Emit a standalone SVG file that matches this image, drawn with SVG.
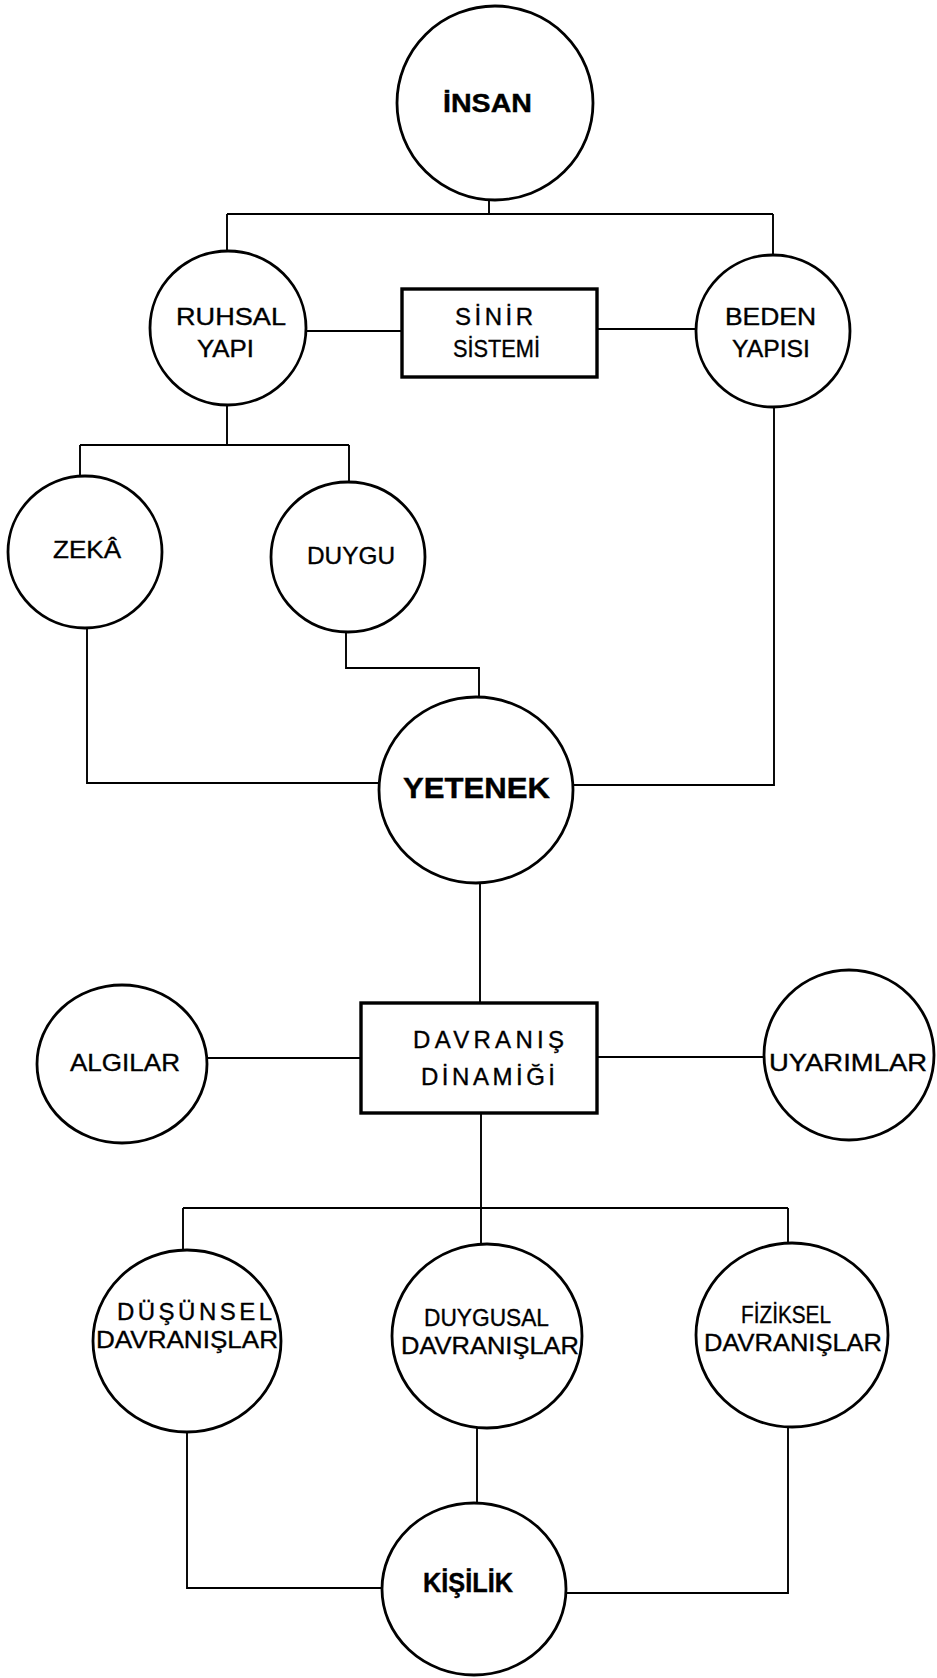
<svg xmlns="http://www.w3.org/2000/svg" width="937" height="1678" viewBox="0 0 937 1678">
<style>
.c{fill:#fff;stroke:#000;stroke-width:2.8}
.b{fill:#fff;stroke:#000;stroke-width:3.4}
.l{fill:none;stroke:#000;stroke-width:1.9}
.t{font-family:"Liberation Sans",Arial,sans-serif;font-size:24px;fill:#000;stroke:#000;stroke-width:0.35}
.bt{font-family:"Liberation Sans",Arial,sans-serif;font-weight:bold;fill:#000;stroke:#000;stroke-width:0.4}
</style>
<rect width="937" height="1678" fill="#fff"/>
<g id="connectors">
<path class="l" d="M489 200V214M227 214H773M227 214V251M773 214V255"/>
<path class="l" d="M306 331H402"/>
<path class="l" d="M597 329H696"/>
<path class="l" d="M227 405V445M80 445H349M80 445V477M349 445V482"/>
<path class="l" d="M87 628V783H379"/>
<path class="l" d="M346 632V668H479V697"/>
<path class="l" d="M774 407V785H573"/>
<path class="l" d="M480 883V1003"/>
<path class="l" d="M207 1058H361"/>
<path class="l" d="M597 1057H764"/>
<path class="l" d="M481 1113V1245M183 1208H788M183 1208V1250M788 1208V1243"/>
<path class="l" d="M187 1432V1588H381"/>
<path class="l" d="M477 1428V1503"/>
<path class="l" d="M788 1427V1593H566"/>
</g>
<g id="insan"><ellipse class="c" cx="495" cy="103" rx="98" ry="97"/><text class="bt" x="443" y="112" font-size="26" textLength="89" lengthAdjust="spacingAndGlyphs">İNSAN</text></g>
<g id="ruhsal"><ellipse class="c" cx="228" cy="328" rx="78" ry="77"/><text class="t" x="176" y="325" textLength="110" lengthAdjust="spacingAndGlyphs">RUHSAL</text><text class="t" x="197" y="357" textLength="57" lengthAdjust="spacingAndGlyphs">YAPI</text></g>
<g id="sinir"><rect class="b" x="402" y="289" width="195" height="88"/><text class="t" x="455" y="325" font-size="25" textLength="78" lengthAdjust="spacing">SİNİR</text><text class="t" x="453" y="357" textLength="87" lengthAdjust="spacingAndGlyphs">SİSTEMİ</text></g>
<g id="beden"><ellipse class="c" cx="773" cy="331" rx="77" ry="76"/><text class="t" x="725" y="325" textLength="91" lengthAdjust="spacingAndGlyphs">BEDEN</text><text class="t" x="732" y="357" textLength="78" lengthAdjust="spacingAndGlyphs">YAPISI</text></g>
<g id="zeka"><ellipse class="c" cx="85" cy="552" rx="77" ry="76"/><text class="t" x="53" y="558" textLength="68" lengthAdjust="spacingAndGlyphs">ZEKÂ</text></g>
<g id="duygu"><ellipse class="c" cx="348" cy="557" rx="77" ry="75"/><text class="t" x="307" y="564" textLength="88" lengthAdjust="spacingAndGlyphs">DUYGU</text></g>
<g id="yetenek"><ellipse class="c" cx="476" cy="790" rx="97" ry="93"/><text class="bt" x="403" y="798" font-size="30" textLength="147" lengthAdjust="spacingAndGlyphs">YETENEK</text></g>
<g id="algilar"><ellipse class="c" cx="122" cy="1064" rx="85" ry="79"/><text class="t" x="70" y="1071" font-size="25" textLength="110" lengthAdjust="spacingAndGlyphs">ALGILAR</text></g>
<g id="davranis"><rect class="b" x="361" y="1003" width="236" height="110"/><text class="t" x="413" y="1048" font-size="25" textLength="151" lengthAdjust="spacing">DAVRANIŞ</text><text class="t" x="421" y="1085" font-size="25" textLength="134" lengthAdjust="spacing">DİNAMİĞİ</text></g>
<g id="uyarimlar"><ellipse class="c" cx="849" cy="1055" rx="85" ry="85"/><text class="t" x="769" y="1071" font-size="25" textLength="158" lengthAdjust="spacingAndGlyphs">UYARIMLAR</text></g>
<g id="dusunsel"><ellipse class="c" cx="187" cy="1341" rx="94" ry="91"/><text class="t" x="117" y="1320" textLength="155" lengthAdjust="spacing">DÜŞÜNSEL</text><text class="t" x="96" y="1348" textLength="182" lengthAdjust="spacingAndGlyphs">DAVRANIŞLAR</text></g>
<g id="duygusal"><ellipse class="c" cx="487" cy="1336" rx="95" ry="92"/><text class="t" x="424" y="1326" textLength="125" lengthAdjust="spacingAndGlyphs">DUYGUSAL</text><text class="t" x="401" y="1354" textLength="178" lengthAdjust="spacingAndGlyphs">DAVRANIŞLAR</text></g>
<g id="fiziksel"><ellipse class="c" cx="792" cy="1335" rx="96" ry="92"/><text class="t" x="741" y="1323" textLength="90" lengthAdjust="spacingAndGlyphs">FİZİKSEL</text><text class="t" x="704" y="1351" textLength="178" lengthAdjust="spacingAndGlyphs">DAVRANIŞLAR</text></g>
<g id="kisilik"><ellipse class="c" cx="474" cy="1589" rx="92" ry="86"/><text class="bt" x="423" y="1592" font-size="27" textLength="90" lengthAdjust="spacingAndGlyphs">KİŞİLİK</text></g>
</svg>
